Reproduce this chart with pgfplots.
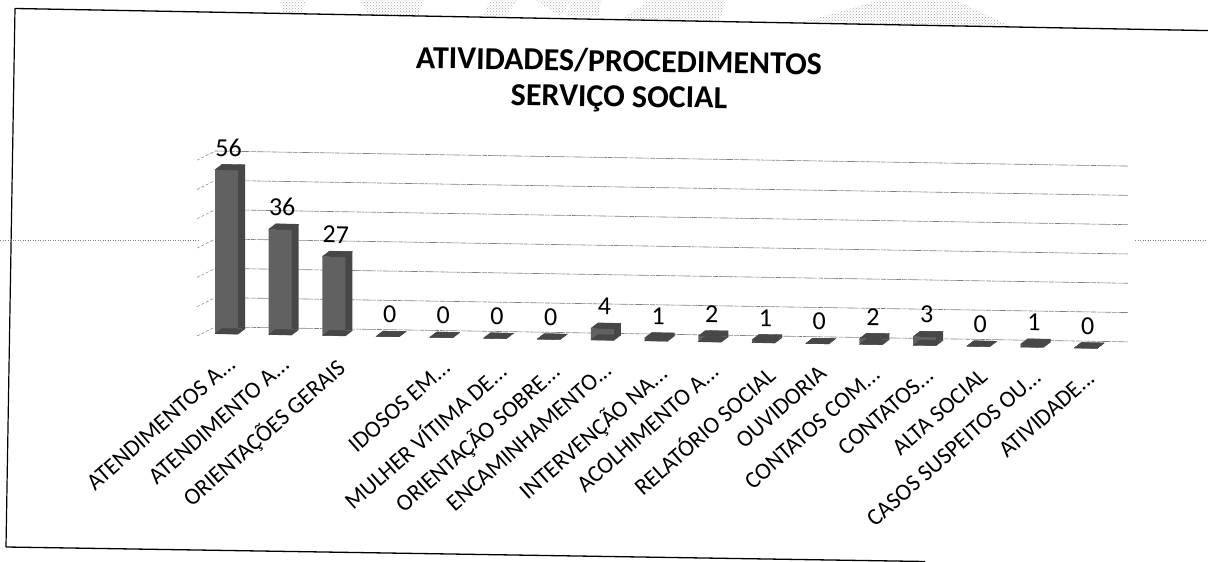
\documentclass[border=0pt]{standalone}
\usepackage{fontspec}
\setmainfont{Carlito}
\usepackage{pgfplots}
\usepackage{pgfplotstable}
\usetikzlibrary{patterns}
\pgfplotsset{compat=1.18}
\newcommand\el{...}
\definecolor{barc}{gray}{0.38}
\definecolor{barb}{gray}{0.28}
\definecolor{gridc}{gray}{0.5}
\pgfdeclareplotmark{cap}{%
  \pgfpathmoveto{\pgfqpoint{-11.5pt}{0pt}}%
  \pgfpathlineto{\pgfqpoint{11.5pt}{0pt}}%
  \pgfpathlineto{\pgfqpoint{18.5pt}{5.5pt}}%
  \pgfpathlineto{\pgfqpoint{-4.5pt}{5.5pt}}%
  \pgfpathclose\pgfusepathqfillstroke}
\pgfplotstableread{
x v b
0 56 0
1 36 0
2 27 0
3 0 0
4 0 0
5 0 0
6 0 0
7 4 0
8 1 0
9 2 0
10 1 0
11 0 0
12 2 0
13 3 0
14 0 0
15 1 0
16 0 0
}\values
\begin{document}
\begin{tikzpicture}[x=1pt,y=1pt]
\useasboundingbox (0,0) rectangle (1208,562);
% bleed-through of the scanned page
\path[pattern=crosshatch dots,pattern color=gray!70] (280,562) -- (306,562) -- (302,548.5) -- (282,548.5) -- cycle;
\path[pattern=crosshatch dots,pattern color=gray!70] (360,562) -- (425,562) -- (418,546) -- (368,547) -- cycle;
\path[pattern=crosshatch dots,pattern color=gray!70] (490,562) -- (518,562) -- (505,545) -- (483,545) -- cycle;
\path[pattern=crosshatch dots,pattern color=gray!70] (535,562) -- (572,562) -- (560,546) -- cycle;
\path[pattern=crosshatch dots,pattern color=gray!70] (572,562) -- (602,562) -- (598,545) -- (566,545) -- cycle;
\path[pattern=crosshatch dots,pattern color=gray!70] (650,562) -- (725,562) -- (720,540) -- (622,543) -- cycle;
\path[pattern=crosshatch dots,pattern color=gray!70] (800,539) -- (880,562) -- (955,562) -- (1012,535) -- cycle;
% page frame
\draw[black,line width=1.3pt] (15,553.5) -- (1208,531.4);
\draw[black,line width=1.2pt] (15,553.5) -- (6,15);
\draw[black,line width=1.3pt] (6,15) -- (925,0.5);
% fold line
\draw[gray,dotted,line width=.5pt] (0,322) -- (200,322);
\draw[gray,dotted,line width=.5pt] (1135,322) -- (1208,322);
\node[font=\bfseries\fontsize{32}{32}\selectfont,anchor=center,rotate=-0.9] at (619,501) {ATIVIDADES/PROCEDIMENTOS};
\node[font=\bfseries\fontsize{32}{32}\selectfont,anchor=center,rotate=-0.9] at (619,463) {SERVIÇO SOCIAL};
\begin{scope}[cm={1,-0.0165,0,1,(0pt,0pt)}]
\begin{axis}[
  at={(226.5pt,231.74pt)},anchor=origin,
  x=53.7pt,y=2.93pt,
  xmin=-0.326,xmax=16.68,ymin=0,ymax=60,
  clip=false,
  axis line style={draw=none},
  tick style={draw=none},
  major tick length=0pt,
  ytick={0,10,20,30,40,50,60},
  yticklabels={},
  ymajorgrids,
  grid style={gridc,line width=.6pt,dash pattern=on 14pt off 1pt on 5pt off 1pt,xshift=6pt,yshift=7pt},
  xtick={0,1,2,3,4,5,6,7,8,9,10,11,12,13,14,15,16},
  xticklabels={ATENDIMENTOS A\el,ATENDIMENTO A\el,ORIENTAÇÕES GERAIS,{},IDOSOS EM\el,MULHER VÍTIMA DE\el,ORIENTAÇÃO SOBRE\el,ENCAMINHAMENTO\el,INTERVENÇÃO NA\el,ACOLHIMENTO A\el,RELATÓRIO SOCIAL,OUVIDORIA,CONTATOS  COM\el,CONTATOS\el,ALTA SOCIAL,CASOS SUSPEITOS OU\el,ATIVIDADE\el},
  xticklabel style={rotate=42,anchor=north east,font=\fontsize{23.5}{24}\selectfont,xshift=-10pt,yshift=-12pt},
]
% side walls
\addplot[gridc,line width=.5pt,densely dashed,unbounded coords=jump] coordinates {
 (-0.55,-0.85) (-0.214,2.3) (nan,nan)
 (-0.55,9.15) (-0.214,12.3) (nan,nan)
 (-0.55,19.15) (-0.214,22.3) (nan,nan)
 (-0.55,29.15) (-0.214,32.3) (nan,nan)
 (-0.55,39.15) (-0.214,42.3) (nan,nan)
 (-0.55,49.15) (-0.214,52.3) (nan,nan)
 (-0.55,59.15) (-0.214,62.3)
};
\addplot[ybar,bar shift=0pt,bar width=23pt,fill=barb,draw=none,xshift=7pt,yshift=5.5pt] table[x=x,y=v] {\values};
\addplot[only marks,mark=cap,mark options={fill=barb,draw=barb,line width=.3pt}] table[x=x,y=v] {\values};
\addplot[only marks,mark=cap,mark options={fill=barb,draw=barb,line width=.3pt}] table[x=x,y=b] {\values};
\addplot[ybar,bar shift=0pt,bar width=23pt,fill=barc,draw=none,
  nodes near coords,
  nodes near coords style={font=\fontsize{26}{26}\selectfont,anchor=south,xshift=2pt,yshift=10pt,/pgf/number format/assume math mode=true,text=black},
  ] table[x=x,y=v] {\values};
\end{axis}
\end{scope}
\end{tikzpicture}
\end{document}
